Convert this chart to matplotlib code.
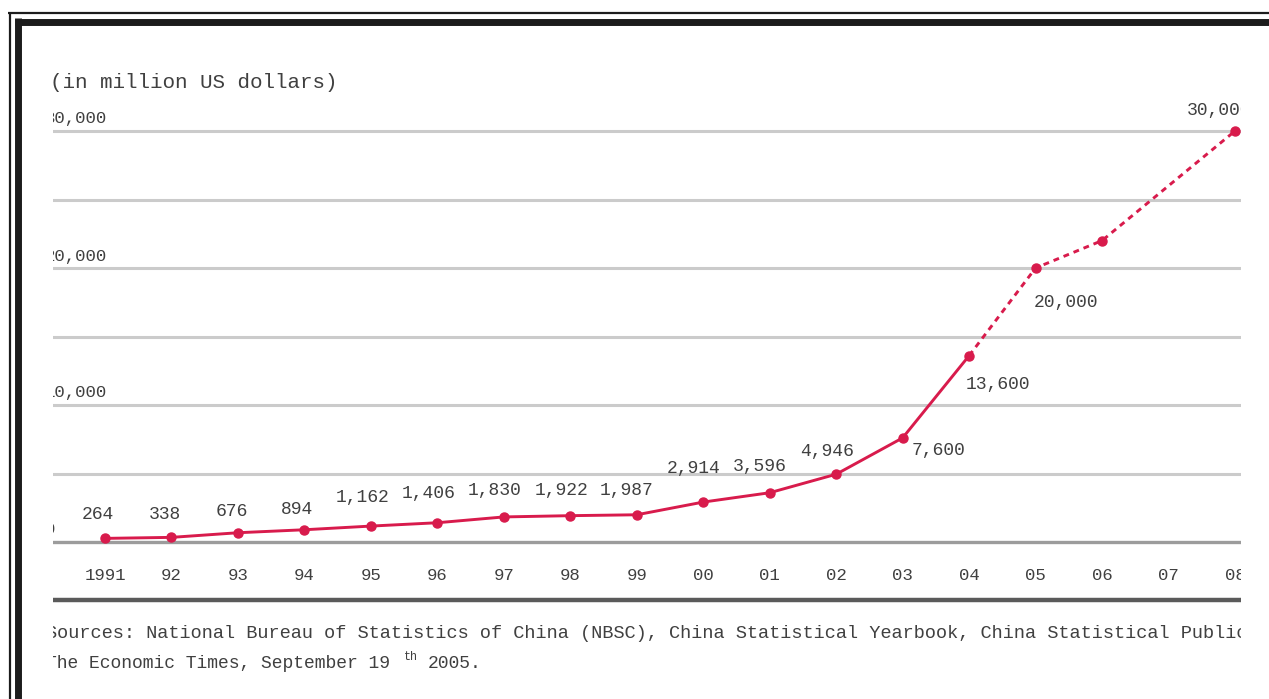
import matplotlib
matplotlib.use('Agg')
from matplotlib import pyplot as plt
from matplotlib.lines import Line2D
from matplotlib.transforms import offset_copy

# values in million US dollars
years = ['1991', '92', '93', '94', '95', '96', '97', '98', '99',
         '00', '01', '02', '03', '04', '05', '06', '07', '08']
actual_values = [264, 338, 676, 894, 1162, 1406, 1830, 1922, 1987,
                 2914, 3596, 4946, 7600, 13600]
projected_years = ['04', '05', '06', '08']
projected_values = [13600, 20000, 22000, 30000]
projected_labelled = ['05', '08']
grid_values = [0, 5000, 10000, 15000, 20000, 25000, 30000]
ytick_values = [0, 10000, 20000, 30000]
title = '(in million US dollars)'
source_line1 = ('Sources: National Bureau of Statistics of China (NBSC), China Statistical '
                'Yearbook, China Statistical Publications,')
source_line2a = 'The Economic Times, September 19'
source_line2b = '2005.'

# label offsets in pixels (dx, dy) from each point
actual_offsets = [(-7, 24), (-7, 23), (-6, 21), (-7, 20), (-8, 29), (-9, 29), (-9, 26),
                  (-9, 25), (-10, 24), (-10, 34), (-10, 26), (-9, 23), (36, -13), (29, -29)]
projected_offsets = {'05': (30, -34), '08': (-16, 21)}

W, H = 1269, 699
X0, XSTEP = 105, 66.47        # pixel x of first year, pixels per year
Y0, YSTEP = 542, 68.5         # pixel y of zero, pixels per 5,000
LEFT, RIGHT, TOP, BOTTOM = 53, 1241, 40, 690

RED = '#d81b4c'
TXT = '#404040'
FONT = 'Liberation Mono'


def xi(px):
    return (px - X0) / XSTEP


def yv(px):
    return (Y0 - px) / YSTEP * 5000


fig = plt.figure(figsize=(W / 100, H / 100), dpi=100)
fig.set_facecolor('white')
ax = fig.add_axes([LEFT / W, 1 - BOTTOM / H, (RIGHT - LEFT) / W, (BOTTOM - TOP) / H])
ax.set_xlim(xi(LEFT), xi(RIGHT))
ax.set_ylim(yv(BOTTOM), yv(TOP))
ax.axis('off')

# horizontal grid
for v in grid_values:
    if v == 0:
        ax.axhline(v, color='#9c9c9c', lw=2.4, zorder=1)
    else:
        ax.axhline(v, color='#cbcbcb', lw=2.2, zorder=1)
ax.axhline(yv(600), color='#5a5a5a', lw=3.2, zorder=1)

# y labels, left aligned and cut by the axes edge
for v in ytick_values:
    t = offset_copy(ax.transData, fig=fig, x=0, y=12, units='dots')
    ax.text(xi(45), v, f'{v:,}', transform=t, ha='left', va='center',
            fontsize=12.5, family=FONT, color=TXT, clip_on=True)

ax.text(xi(50), yv(83), title, ha='left', va='center', fontsize=15,
        family=FONT, color=TXT, clip_on=True)

idx = {y: i for i, y in enumerate(years)}

# actual series
ax_x = [idx[y] for y in years[:len(actual_values)]]
ax.plot(ax_x, actual_values, color=RED, lw=2.1, marker='o', ms=6.5,
        solid_capstyle='round', zorder=3)
for x, v, (dx, dy) in zip(ax_x, actual_values, actual_offsets):
    t = offset_copy(ax.transData, fig=fig, x=dx, y=dy, units='dots')
    ax.text(x, v, f'{v:,}', transform=t, ha='center', va='center',
            fontsize=13, family=FONT, color=TXT, clip_on=True, zorder=4)

# projection
px_ = [idx[y] for y in projected_years]
ax.plot(px_, projected_values, color=RED, lw=2.1, ls=(0, (2.0, 1.7)), zorder=3)
ax.plot(px_[1:], projected_values[1:], ls='none', marker='o', ms=6.5, color=RED, zorder=3)
for y, v in zip(projected_years, projected_values):
    if y in projected_labelled:
        dx, dy = projected_offsets[y]
        t = offset_copy(ax.transData, fig=fig, x=dx, y=dy, units='dots')
        ax.text(idx[y], v, f'{v:,}', transform=t, ha='center', va='center',
                fontsize=13, family=FONT, color=TXT, clip_on=True, zorder=4)

# year labels
for i, y in enumerate(years):
    ax.text(i, yv(575), y, ha='center', va='center', fontsize=12.5,
            family=FONT, color=TXT, clip_on=True)

# sources
ax.text(xi(46), yv(633), source_line1, ha='left', va='center', fontsize=13.4,
        family=FONT, color=TXT, clip_on=True)
cw = 13 * 0.6 * 100 / 72
ax.text(xi(46), yv(663), source_line2a, ha='left', va='center', fontsize=13,
        family=FONT, color=TXT, clip_on=True)
ax.text(xi(46 + 33 * cw), yv(657), 'th', ha='left', va='center', fontsize=8.5,
        family=FONT, color=TXT, clip_on=True)
ax.text(xi(46 + 35.2 * cw), yv(663), source_line2b, ha='left', va='center', fontsize=13,
        family=FONT, color=TXT, clip_on=True)

# double frame at top and left
def fline(x1, y1, x2, y2, lw):
    fig.add_artist(Line2D([x1 / W, x2 / W], [1 - y1 / H, 1 - y2 / H],
                          transform=fig.transFigure, color='#1c1c1c', lw=lw,
                          solid_capstyle='butt'))


fline(8, 13, W, 13, 1.6)
fline(9.5, 12, 9.5, H, 1.6)
fline(15, 21.5, W, 21.5, 5)
fline(18.3, 18, 18.3, H, 5)

fig.savefig('out.png', dpi=100, facecolor='white')
